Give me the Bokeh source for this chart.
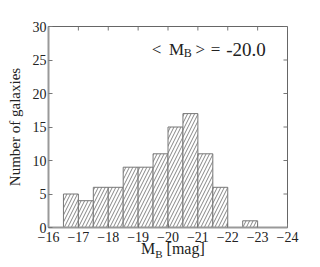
from bokeh.plotting import figure
from bokeh.models import Range1d, FixedTicker, Label, ColumnDataSource, Div
from bokeh.layouts import column
from bokeh.embed import file_html
from bokeh.resources import INLINE

# data
bin_left = [-16.5, -17.0, -17.5, -18.0, -18.5, -19.0, -19.5, -20.0, -20.5, -21.0, -21.5, -22.0, -22.5]
bin_right = [-17.0, -17.5, -18.0, -18.5, -19.0, -19.5, -20.0, -20.5, -21.0, -21.5, -22.0, -22.5, -23.0]
counts = [5, 4, 6, 6, 9, 9, 11, 15, 17, 11, 6, 0, 1]
x_ticks = [-16, -17, -18, -19, -20, -21, -22, -23, -24]
y_ticks = [0, 5, 10, 15, 20, 25, 30]
mean_mb = "-20.0"

FONT = "Liberation Serif"
XMIN, XMAX, YMIN, YMAX = -16, -24, 0, 30

p = figure(width=310, height=246, output_backend="svg", toolbar_location=None,
           x_range=Range1d(XMIN, XMAX), y_range=Range1d(YMIN, YMAX),
           min_border_left=48, min_border_right=23, min_border_top=26, min_border_bottom=19)
p.grid.visible = False
p.outline_line_color = "#666666"
p.outline_line_width = 1

src = ColumnDataSource(dict(left=bin_left, right=bin_right, top=counts,
                            bottom=[0] * len(counts)))
p.quad(left="left", right="right", top="top", bottom="bottom", source=src,
       fill_color="white", line_color="#777777", line_width=1,
       hatch_pattern="/", hatch_color="#333333", hatch_weight=0.6, hatch_scale=7)

# inward ticks on top and right frame edges
tick_dy = 4 * (YMAX - YMIN) / 200
tick_dx = 4 * (XMAX - XMIN) / 238
p.segment(x0=x_ticks, x1=x_ticks, y0=[YMAX] * len(x_ticks), y1=[YMAX - tick_dy] * len(x_ticks),
          line_color="#777777", line_width=1)
p.segment(x0=[XMAX] * len(y_ticks), x1=[XMAX - tick_dx] * len(y_ticks), y0=y_ticks, y1=y_ticks,
          line_color="#777777", line_width=1)

def style_axis(ax, ticks):
    ax.ticker = FixedTicker(ticks=ticks)
    ax.minor_tick_line_color = None
    ax.major_tick_in = 4
    ax.major_tick_out = 0
    ax.major_tick_line_color = "#777777"
    ax.axis_line_color = "#999999"
    ax.axis_line_width = 2
    ax.major_label_text_font = FONT
    ax.major_label_text_font_size = "14px"
    ax.major_label_text_color = "#222222"
    ax.major_label_standoff = 2

xa = p.xaxis[0]
style_axis(xa, x_ticks)
xa.major_label_overrides = {t: ("\u2212" + str(abs(t))) for t in x_ticks}
xa.major_label_standoff = 4

ya = p.yaxis[0]
style_axis(ya, y_ticks)
ya.axis_label = "Number of galaxies"
ya.axis_label_text_font = FONT
ya.axis_label_text_font_style = "normal"
ya.axis_label_text_font_size = "15px"
ya.axis_label_text_color = "#222222"
ya.axis_label_standoff = 7

# annotation < M_B > = -20.0
BASE = 26.6
for txt, x, y, size in [("<", -19.46, BASE, "17px"), ("M", -20.03, BASE, "17px"),
                        ("B", -20.53, BASE - 0.5, "12px"),
                        (">", -20.92, BASE, "17px"), ("=", -21.43, BASE, "17px"),
                        (mean_mb, -21.95, BASE, "19px")]:
    p.add_layout(Label(x=x, y=y, text=txt, text_font=FONT, text_font_size=size,
                       text_color="#222222", text_baseline="alphabetic"))

xlabel = Div(text='M<sub style="font-size:11px">B</sub> [mag]', width=140, height=20,
             margin=(-6, 0, 0, 141),
             styles={"font-family": FONT, "font-size": "16px", "color": "#222222",
                     "line-height": "18px", "white-space": "nowrap"})

layout = column(p, xlabel, spacing=0)
open("out.html", "w").write(file_html(layout, INLINE))
